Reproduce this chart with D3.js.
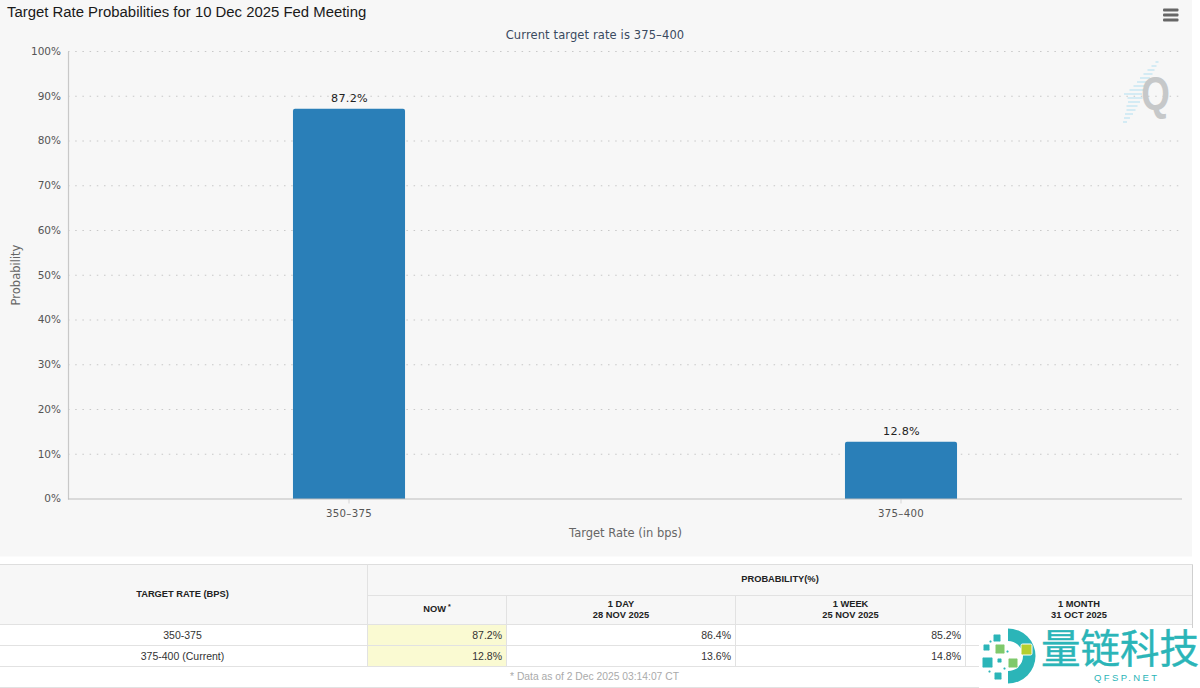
<!DOCTYPE html>
<html>
<head>
<meta charset="utf-8">
<script src="https://cdn.jsdelivr.net/npm/d3@7"></script>
<style>
  html, body { margin: 0; padding: 0; background: #fff; overflow: hidden; }
  svg { display: block; }
</style>
</head>
<body>
<div id="chart"></div>
<script>
// chart values
const rates = ["350-375", "375-400"];
const probabilities = [87.2, 12.8];
const yTicks = [0, 10, 20, 30, 40, 50, 60, 70, 80, 90, 100];

// table values
const tableRows = ["350-375", "375-400 (Current)"];
const tableHeads = ["NOW", "1 DAY|28 NOV 2025", "1 WEEK|25 NOV 2025", "1 MONTH|31 OCT 2025"];
const nowValues = ["87.2%", "12.8%"];
const dayValues = ["86.4%", "13.6%"];
const weekValues = ["85.2%", "14.8%"];

const width = 1200;
const height = 688;

const svg = d3.select("#chart")
  .append("svg")
  .attr("width", width)
  .attr("height", height);

const chartFont = "'DejaVu Sans', sans-serif";
const tableFont = "'Liberation Sans', Arial, sans-serif";

// background of the chart panel
svg.append("rect")
  .attr("width", 1192)
  .attr("height", 556.5)
  .attr("fill", "#f7f7f7");

svg.append("text")
  .attr("x", 7)
  .attr("y", 17)
  .attr("font-family", tableFont)
  .attr("font-size", 14.9)
  .attr("fill", "#1a1a1a")
  .text("Target Rate Probabilities for 10 Dec 2025 Fed Meeting");

svg.append("text")
  .attr("x", 595)
  .attr("y", 39)
  .attr("text-anchor", "middle")
  .attr("font-family", chartFont)
  .attr("font-size", 11.5)
  .attr("letter-spacing", 0.12)
  .attr("fill", "#3a4a60")
  .text("Current target rate is 375\u2013400");

// menu icon
svg.append("g")
  .selectAll("rect")
  .data([0, 1, 2])
  .enter()
  .append("rect")
  .attr("x", 1163)
  .attr("y", d => 8.5 + d * 5)
  .attr("width", 15.5)
  .attr("height", 3)
  .attr("rx", 1)
  .attr("fill", "#666");

const xScale = d3.scaleBand().domain(rates).range([73, 1177]);
const yScale = d3.scaleLinear().domain([0, 100]).range([499, 51.5]);
const barWidth = xScale.bandwidth() * 0.203;

// gridlines
svg.append("g")
  .selectAll("line")
  .data(yTicks.filter(d => d > 0))
  .enter()
  .append("line")
  .attr("x1", 68)
  .attr("x2", 1182)
  .attr("y1", d => yScale(d))
  .attr("y2", d => yScale(d))
  .attr("stroke", "#c8c8c8")
  .attr("stroke-width", 1.2)
  .attr("stroke-dasharray", "1.5,5.7");

// watermark Q
const streak = [
  [1157, 62, 3], [1154, 66, 5], [1151, 70, 7], [1148, 74, 9], [1145, 78, 10], [1143, 82, 12],
  [1140, 86, 13], [1137, 90, 15], [1133, 94, 18], [1135, 98, 15], [1134, 102, 12],
  [1132, 106, 11], [1131, 110, 9], [1129, 114, 8], [1127, 118, 6], [1125, 122, 4]
];
svg.append("g")
  .selectAll("line")
  .data(streak)
  .enter()
  .append("line")
  .attr("x1", d => d[0] - d[2] / 2)
  .attr("x2", d => d[0] + d[2] / 2)
  .attr("y1", d => d[1])
  .attr("y2", d => d[1])
  .attr("stroke", "#cbe8f3")
  .attr("stroke-width", 1.6);

svg.append("text")
  .attr("transform", "translate(1155.5,109) scale(0.8,1)")
  .attr("text-anchor", "middle")
  .attr("font-family", tableFont)
  .attr("font-weight", "bold")
  .attr("font-size", 46)
  .attr("fill", "#c6c8c9")
  .text("Q");

// y axis
const yAxis = d3.axisLeft(yScale)
  .tickValues(yTicks)
  .tickFormat(d => d + "%")
  .tickSize(0)
  .tickPadding(7);

const yG = svg.append("g")
  .attr("transform", "translate(68,0)")
  .call(yAxis);
yG.select(".domain").attr("stroke", "#c8c8c8").attr("stroke-width", 1.2);
yG.selectAll("text")
  .attr("font-family", chartFont)
  .attr("font-size", 10.5)
  .attr("fill", "#555")
  .attr("dy", "0.28em");

// x axis
const xAxis = d3.axisBottom(xScale)
  .tickSize(5)
  .tickPadding(6);

const xG = svg.append("g")
  .attr("transform", "translate(0,498.5)")
  .call(xAxis);
xG.select(".domain").remove();
xG.selectAll("line").attr("stroke", "#d5d5d5");
xG.selectAll("text")
  .attr("font-family", chartFont)
  .attr("font-size", 10.2)
  .attr("letter-spacing", 0.3)
  .attr("fill", "#555")
  .text(d => d.replace("-", "\u2013"));

// bars
svg.append("g")
  .selectAll("path")
  .data(rates)
  .enter()
  .append("path")
  .attr("d", (d, i) => {
    const x0 = xScale(d) + xScale.bandwidth() / 2 - barWidth / 2;
    const x1 = x0 + barWidth;
    const top = yScale(probabilities[i]);
    const r = 2;
    return `M${x0},${yScale(0)} V${top + r} Q${x0},${top} ${x0 + r},${top} H${x1 - r} Q${x1},${top} ${x1},${top + r} V${yScale(0)} Z`;
  })
  .attr("fill", "#2a7fb8");

svg.append("line")
  .attr("x1", 68)
  .attr("x2", 1182)
  .attr("y1", 499)
  .attr("y2", 499)
  .attr("stroke", "#bdbdbd");

svg.append("g")
  .selectAll("text")
  .data(rates)
  .enter()
  .append("text")
  .attr("x", d => xScale(d) + xScale.bandwidth() / 2 + 0.5)
  .attr("y", (d, i) => yScale(probabilities[i]) - 7)
  .attr("text-anchor", "middle")
  .attr("font-family", chartFont)
  .attr("font-size", 11.2)
  .attr("letter-spacing", 0.3)
  .attr("fill", "#222")
  .text((d, i) => probabilities[i].toFixed(1) + "%");

// axis titles
svg.append("text")
  .attr("transform", "translate(20,275) rotate(-90)")
  .attr("text-anchor", "middle")
  .attr("font-family", chartFont)
  .attr("font-size", 11.5)
  .attr("fill", "#666")
  .text("Probability");

svg.append("text")
  .attr("x", 625.5)
  .attr("y", 537)
  .attr("text-anchor", "middle")
  .attr("font-family", chartFont)
  .attr("font-size", 11.5)
  .attr("fill", "#666")
  .text("Target Rate (in bps)");

// table
const colEdges = [0, 367.5, 506.5, 735.5, 965.5, 1192.5];
const rowEdges = [624.5, 645.5, 666.5];
const table = svg.append("g");

table.append("rect")
  .attr("y", 564)
  .attr("width", 1192.5)
  .attr("height", 60.5)
  .attr("fill", "#f7f7f7");

// highlighted NOW column
table.append("rect")
  .attr("x", colEdges[1])
  .attr("y", rowEdges[0])
  .attr("width", colEdges[2] - colEdges[1])
  .attr("height", rowEdges[2] - rowEdges[0])
  .attr("fill", "#fafad2");

const tableLine = (x1, y1, x2, y2, color) => table.append("line")
  .attr("x1", x1).attr("y1", y1).attr("x2", x2).attr("y2", y2)
  .attr("stroke", color || "#e2e2e2");

tableLine(0, 564.5, 1192.5, 564.5, "#dedede");
tableLine(367.5, 595.5, 1192.5, 595.5);
rowEdges.forEach(y => tableLine(0, y, 1192.5, y));
tableLine(0, 687.5, 1192.5, 687.5);
tableLine(367.5, 564.5, 367.5, 666.5);
tableLine(506.5, 595.5, 506.5, 666.5);
tableLine(735.5, 595.5, 735.5, 666.5);
tableLine(965.5, 595.5, 965.5, 666.5);
tableLine(1192.5, 564.5, 1192.5, 666.5, "#cfcfcf");

const headText = (x, y, str) => table.append("text")
  .attr("x", x)
  .attr("y", y)
  .attr("text-anchor", "middle")
  .attr("font-family", tableFont)
  .attr("font-weight", "bold")
  .attr("font-size", 9.3)
  .attr("fill", "#222")
  .text(str);

headText(182.5, 597, "TARGET RATE (BPS)");
headText(780, 582, "PROBABILITY(%)");

tableHeads.forEach((h, i) => {
  const cx = (colEdges[i + 1] + colEdges[i + 2]) / 2;
  const parts = h.split("|");
  if (parts.length === 1) {
    const t = headText(cx, 612, parts[0]);
    t.append("tspan").attr("dx", 2).attr("dy", -3).attr("font-size", 7).text("*");
  } else {
    headText(cx, 607, parts[0]);
    headText(cx, 618, parts[1]);
  }
});

tableRows.forEach((r, i) => {
  const y = rowEdges[i] + 14.5;
  const cell = (x, anchor, str) => table.append("text")
    .attr("x", x)
    .attr("y", y)
    .attr("text-anchor", anchor)
    .attr("font-family", tableFont)
    .attr("font-size", 10.5)
    .attr("fill", "#333")
    .text(str);
  cell(182.5, "middle", r);
  cell(502, "end", nowValues[i]);
  cell(731, "end", dayValues[i]);
  cell(961, "end", weekValues[i]);
});

table.append("text")
  .attr("x", 594.5)
  .attr("y", 680)
  .attr("text-anchor", "middle")
  .attr("font-family", tableFont)
  .attr("font-size", 10.3)
  .attr("fill", "#aaa")
  .text("* Data as of 2 Dec 2025 03:14:07 CT");

// company watermark, bottom right
const mark = svg.append("g");
mark.append("rect")
  .attr("x", 979)
  .attr("y", 628)
  .attr("width", 221)
  .attr("height", 60)
  .attr("fill", "#fff");

const arc = d3.arc()
  .innerRadius(15)
  .outerRadius(27.5)
  .startAngle(0)
  .endAngle(Math.PI);
mark.append("path")
  .attr("transform", "translate(1008,656)")
  .attr("d", arc())
  .attr("fill", "#2bb5b8");

const squares = [
  [993, 634, 8, "#2bb5b8"], [983, 644, 7, "#2bb5b8"], [995, 644, 10, "#7fc96b"],
  [1021, 644, 11, "#b5cf2e"], [997, 658, 5, "#2bb5b8"], [982, 657, 11, "#2bb5b8"],
  [1008, 658, 10, "#7fc96b"], [994, 672, 8, "#2bb5b8"], [988, 670, 3, "#2bb5b8"],
  [1006, 650, 3, "#2bb5b8"], [989, 640, 3, "#2bb5b8"], [1003, 667, 3, "#2bb5b8"]
];
mark.selectAll("rect.sq")
  .data(squares)
  .enter()
  .append("rect")
  .attr("class", "sq")
  .attr("x", d => d[0])
  .attr("y", d => d[1])
  .attr("width", d => d[2])
  .attr("height", d => d[2])
  .attr("rx", 1.5)
  .attr("fill", d => d[3])
  .attr("stroke", "#fff")
  .attr("stroke-width", 1);

mark.append("text")
  .attr("x", 1041)
  .attr("y", 663)
  .attr("font-family", "'Noto Sans CJK SC', sans-serif")
  .attr("font-size", 39.5)
  .attr("fill", "#2bb5b8")
  .attr("stroke", "#2bb5b8")
  .attr("stroke-width", 0.4)
  .text("量链科技");

mark.append("text")
  .attr("x", 1094)
  .attr("y", 681)
  .attr("font-family", tableFont)
  .attr("font-size", 9.5)
  .attr("letter-spacing", 2.4)
  .attr("fill", "#2bb5b8")
  .text("QFSP.NET");
</script>
</body>
</html>
